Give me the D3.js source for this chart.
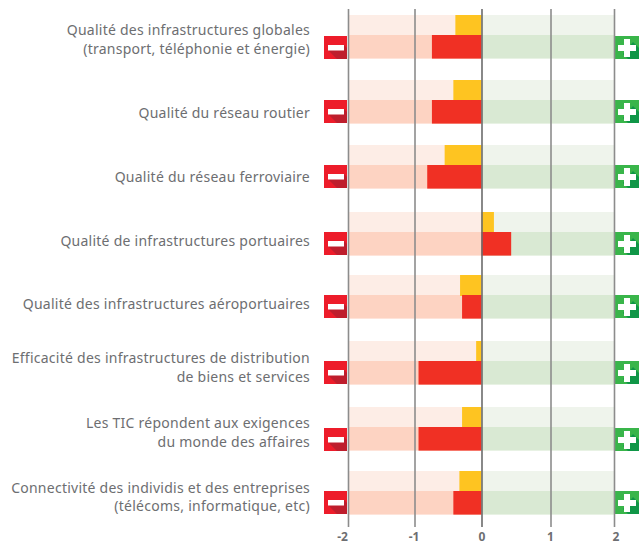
<!DOCTYPE html>
<html><head><meta charset="utf-8">
<script src="https://cdn.jsdelivr.net/npm/d3@7/dist/d3.min.js"></script>
<style>html,body{margin:0;padding:0;background:#fff}svg{display:block}</style></head>
<body><svg id="c" width="640" height="545"></svg>
<script>
const categories = [
  ["Qualité des infrastructures globales","(transport, téléphonie et énergie)"],
  ["Qualité du réseau routier"],
  ["Qualité du réseau ferroviaire"],
  ["Qualité de infrastructures portuaires"],
  ["Qualité des infrastructures aéroportuaires"],
  ["Efficacité des infrastructures de distribution","de biens et services"],
  ["Les TIC répondent aux exigences","du monde des affaires"],
  ["Connectivité des individis et des entreprises","(télécoms, informatique, etc)"]
];
const yellowValues = [-0.39,-0.42,-0.55,0.18,-0.32,-0.08,-0.29,-0.33];
const redValues = [-0.74,-0.74,-0.81,0.43,-0.29,-0.94,-0.94,-0.42];
const tickValues = [-2,-1,0,1,2];

const svg = d3.select("#c");
const x = d3.scaleLinear().domain(tickValues).range([348,414.5,481.5,550.5,614]);
const idx = categories.map((d,i)=>i);
const rowY = d3.scaleOrdinal().domain(idx).range([15,80,145,212,275,341,407,471]);
const iconY = d3.scaleOrdinal().domain(idx).range([36,100,165,232,295,361,428,491]);
const labelY = d3.scaleOrdinal().domain(idx).range([35,118,182,246,309,363,428,492.5]);
const lineGap = 18.5;
const topH = 20, botH = 23.6;
const FONT = "'Noto Sans',sans-serif";

const rows = svg.append("g").selectAll("g").data(idx).join("g")
  .attr("transform", i=>`translate(0,${rowY(i)})`);

// background bands
rows.append("rect").attr("x",x(-2)).attr("width",x(0)-x(-2)).attr("y",0).attr("height",topH).attr("fill","#fdede6");
rows.append("rect").attr("x",x(0)).attr("width",x(2)-x(0)).attr("y",0).attr("height",topH).attr("fill","#eff4ec");
rows.append("rect").attr("x",x(-2)).attr("width",x(0)-x(-2)).attr("y",topH).attr("height",botH).attr("fill","#fdd3c2");
rows.append("rect").attr("x",x(0)).attr("width",x(2)-x(0)).attr("y",topH).attr("height",botH).attr("fill","#d9e9d3");

// value bars
rows.append("rect").attr("x",i=>Math.min(x(0),x(yellowValues[i]))).attr("width",i=>Math.abs(x(yellowValues[i])-x(0)))
  .attr("y",0).attr("height",topH+1).attr("fill","#fec421");
rows.append("rect").attr("x",i=>Math.min(x(0),x(redValues[i]))).attr("width",i=>Math.abs(x(redValues[i])-x(0)))
  .attr("y",topH).attr("height",botH).attr("fill","#f03024");

// icons
const icons = svg.append("g").selectAll("g").data(idx).join("g")
  .attr("transform", i=>`translate(0,${iconY(i)})`);
const minus = icons.append("g").attr("transform","translate(324,0)");
minus.append("rect").attr("width",23).attr("height",23).attr("fill","#ed1c2a");
minus.append("path").attr("d","M4 14H20V9L23 12V23H13Z").attr("fill","#be1e2d");
minus.append("rect").attr("x",4).attr("y",9).attr("width",16).attr("height",5.5).attr("fill","#fff");

const plus = icons.append("g").attr("transform","translate(615,0)");
plus.append("rect").attr("width",24).attr("height",23).attr("fill","#39b54a");
plus.append("path").attr("d","M8 18L13 23H24V12L18 6Z").attr("fill","#0f9647");
plus.append("path").attr("d","M9 3H15V9H21V15H15V21H9V15H3V9H9Z").attr("fill","#fff");

// grid and axis
const axis = svg.append("g").attr("transform","translate(0,527)")
  .call(d3.axisBottom(x).tickValues(tickValues).tickSize(518).tickFormat(d=>String(d)));
axis.select(".domain").remove();
axis.selectAll("line").attr("y1",0).attr("y2",-518)
  .attr("stroke",d=>d===0?"#6b6b6b":"#8c8c8c").attr("stroke-width",1.6);
axis.selectAll("text").attr("y",14.4).attr("dy",0)
  .attr("dx",d=>d===-2?-6:(d===-1?-1:(d===1?-0.5:(d===2?1.5:0))))
  .attr("font-family",FONT).attr("font-size",12).attr("font-weight",700).attr("fill","#6d6e71");

// category labels
const labels = svg.append("g").selectAll("text").data(idx).join("text")
  .attr("text-anchor","end").attr("font-family",FONT)
  .attr("font-size",14).attr("letter-spacing",0.25).attr("fill","#6d6e71");
labels.selectAll("tspan").data(i=>categories[i].map((t,j)=>({t,j,i})))
  .join("tspan").attr("x",310)
  .attr("y",d=>labelY(d.i)+d.j*lineGap)
  .text(d=>d.t);
</script></body></html>
